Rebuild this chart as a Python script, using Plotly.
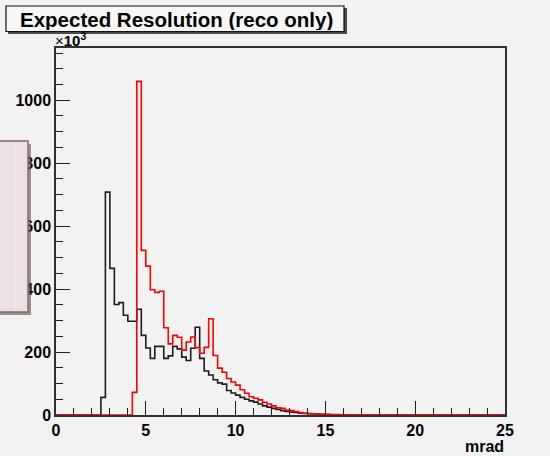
import plotly.graph_objects as go

# Histogram binning: 100 bins of 0.25 mrad from 0 to 25
bin_edges = [0.25 * i for i in range(101)]

# Bin contents in units of 10^3 entries
black_counts = [
    0, 0, 0, 0, 0, 0, 0, 0, 0, 0,
    56, 708, 466, 351, 357, 317, 298, 298, 336, 253,
    213, 180, 218, 218, 180, 188, 218, 210, 184, 173,
    212, 279, 180, 140, 127, 112, 102, 98, 78, 70,
    63, 56, 50, 45, 41, 35, 29, 25, 21, 18,
    14, 11, 9, 8, 6, 5, 4, 3, 2.5, 2,
    1.5, 1, 0.8, 0.5, 0.3, 0.2, 0.2, 0.1, 0.1, 0,
    0, 0, 0, 0, 0, 0, 0, 0, 0, 0,
    0, 0, 0, 0, 0, 0, 0, 0, 0, 0,
    0, 0, 0, 0, 0, 0, 0, 0, 0, 0,
]
red_counts = [
    0, 0, 0, 0, 0, 0, 0, 0, 0, 0,
    0, 0, 0, 0, 0, 0, 0, 72, 1060, 523,
    473, 398, 389, 393, 277, 226, 253, 247, 206, 232,
    248, 214, 196, 215, 306, 189, 149, 136, 116, 105,
    95, 80, 69, 58, 53, 48, 40, 35, 29, 23,
    21, 16, 14, 11, 8, 6, 5, 4, 3, 2.5,
    2, 1.5, 1.2, 0.8, 0.6, 0.5, 0.4, 0.3, 0.2, 0.2,
    0.1, 0.1, 0.1, 0.1, 0, 0, 0, 0, 0, 0,
    0, 0, 0, 0, 0, 0, 0, 0, 0, 0,
    0, 0, 0, 0, 0, 0, 0, 0, 0, 0,
]

x_ticks = [0, 5, 10, 15, 20, 25]
y_ticks = [0, 200, 400, 600, 800, 1000]
y_max = 1.1 * max(red_counts)

W, H = 550, 456
L, R, T, B = 56, 45, 48, 41
PW, PH = W - L - R, H - T - B


def fx(p):
    return (p - L) / PW


def fy(p):
    return (H - B - p) / PH


BG = "#f2f2f2"
FONT = "Liberation Sans, Arial, Helvetica, sans-serif"

fig = go.Figure()
for counts, color in [(black_counts, "#1c1c1c"), (red_counts, "#ff0000")]:
    fig.add_trace(go.Scatter(
        x=bin_edges, y=counts + [counts[-1]],
        mode="lines", line=dict(color=color, width=1.6, shape="hv"),
        hoverinfo="skip", showlegend=False,
    ))

axis_common = dict(
    showgrid=False, zeroline=False, showline=True, mirror=True,
    linecolor="#303030", linewidth=1.5,
    ticks="inside", ticklen=14, tickwidth=1.2, tickcolor="#202020",
    tickfont=dict(family=FONT, size=16, color="black", weight="bold"),
)
fig.update_xaxes(
    range=[0, 25], tickvals=x_ticks, ticktext=[str(v) for v in x_ticks],
    minor=dict(dtick=1, ticks="inside", ticklen=7, tickcolor="#202020", tickwidth=1.2),
    **axis_common,
)
fig.update_yaxes(
    range=[0, y_max], tickvals=y_ticks, ticktext=[str(v) for v in y_ticks],
    minor=dict(dtick=50, ticks="inside", ticklen=7, tickcolor="#202020", tickwidth=1.2),
    **axis_common,
)

shapes = [
    # title box with drop shadow
    dict(type="rect", xref="paper", yref="paper", x0=fx(8), x1=fx(347), y0=fy(34), y1=fy(8),
         fillcolor="#4a4a4a", line=dict(width=0), layer="above"),
    dict(type="rect", xref="paper", yref="paper", x0=fx(6), x1=fx(344), y0=fy(31.5), y1=fy(6),
         fillcolor="#f7f7f7", line=dict(color="#101010", width=1.2), layer="above"),
    # side box partly outside the canvas
    dict(type="rect", xref="paper", yref="paper", x0=fx(-10), x1=fx(31), y0=fy(315), y1=fy(144),
         fillcolor="#5a5050", opacity=0.6, line=dict(width=0), layer="above"),
    dict(type="rect", xref="paper", yref="paper", x0=fx(-10), x1=fx(28), y0=fy(312), y1=fy(141),
         fillcolor="#ebe1e2", line=dict(color="#8a6a6a", width=1.5), layer="above"),
    dict(type="line", xref="paper", yref="paper", x0=fx(15), x1=fx(15), y0=fy(311), y1=fy(142),
         line=dict(color="#f3ecec", width=1), layer="above"),
]

annotations = [
    dict(text="<b>Expected Resolution (reco only)</b>", xref="paper", yref="paper",
         x=fx(176), y=fy(19), xanchor="center", yanchor="middle", showarrow=False,
         height=22, borderpad=0,
         font=dict(family=FONT, size=20.5, color="black")),
    dict(text="×<b>10<sup>3</sup></b>", xref="paper", yref="paper",
         x=fx(54), y=fy(50), xanchor="left", yanchor="bottom", showarrow=False,
         borderpad=0,
         font=dict(family=FONT, size=15, color="black")),
    dict(text="<b>mrad</b>", xref="paper", yref="paper",
         x=fx(506), y=fy(446), xanchor="right", yanchor="middle", showarrow=False,
         font=dict(family=FONT, size=16, color="black")),
]

fig.update_layout(
    width=W, height=H, margin=dict(l=L, r=R, t=T, b=B, pad=0),
    paper_bgcolor=BG, plot_bgcolor=BG,
    shapes=shapes, annotations=annotations,
)

fig.write_html("out.html")
